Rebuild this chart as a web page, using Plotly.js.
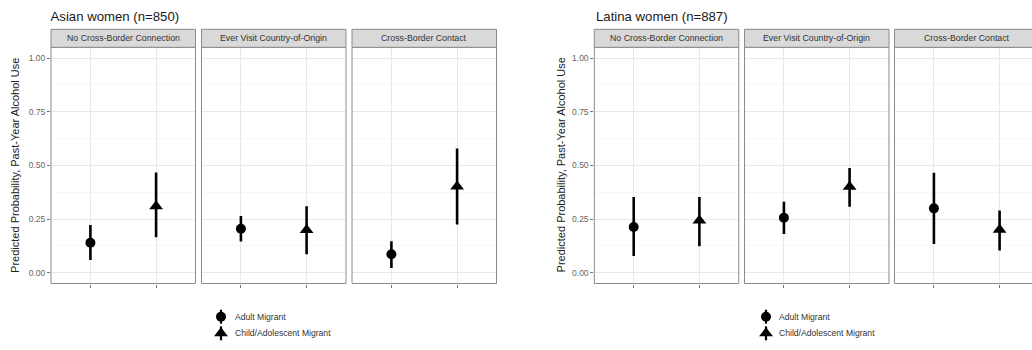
<!DOCTYPE html>
<html>
<head>
<meta charset="utf-8">
<script src="https://cdn.plot.ly/plotly-3.0.1.min.js"></script>
<style>
  html, body { margin: 0; padding: 0; background: #ffffff; }
  #chart { width: 1032px; height: 350px; }
</style>
</head>
<body>
<div id="chart"></div>
<script>
// ---------------- DATA ----------------
const facets = ['No Cross-Border Connection', 'Ever Visit Country-of-Origin', 'Cross-Border Contact'];
const groups = ['Adult Migrant', 'Child/Adolescent Migrant'];
const yTickVals = [0, 0.25, 0.5, 0.75, 1];
const yTickText = ['0.00', '0.25', '0.50', '0.75', '1.00'];
const yMinorVals = [0.125, 0.375, 0.625, 0.875];
const asianTitle = 'Asian women (n=850)';
const latinaTitle = 'Latina women (n=887)';
const yTitle = 'Predicted Probability, Past-Year Alcohol Use';

// Asian women: estimate, lower, upper per facet
const asianAdultEst  = [0.140, 0.205, 0.086];
const asianAdultLow  = [0.059, 0.146, 0.022];
const asianAdultHigh = [0.222, 0.264, 0.147];
const asianChildEst  = [0.310, 0.199, 0.402];
const asianChildLow  = [0.165, 0.086, 0.225];
const asianChildHigh = [0.467, 0.310, 0.579];

// Latina women
const latinaAdultEst  = [0.213, 0.256, 0.300];
const latinaAdultLow  = [0.078, 0.180, 0.134];
const latinaAdultHigh = [0.353, 0.331, 0.466];
const latinaChildEst  = [0.243, 0.400, 0.200];
const latinaChildLow  = [0.124, 0.307, 0.104];
const latinaChildHigh = [0.353, 0.488, 0.290];

// ---------------- GEOMETRY / STYLE ----------------
const W = 1032, H = 350;
const panelW = 144.5;
const pxPerUnit = panelW / 2.2;
const panelStarts = [51, 201.5, 352, 594.3, 744.5, 894.5];
const panelTop = 47.3, panelBottom = 283.5;
const stripTop = 29.3;
const borderColor = '#8a8a8a';
const gridMajor = '#e8e8e8';
const gridMinor = '#f3f3f3';
const symbols = ['circle', 'triangle-up'];
const sizes = [10, 12];
const FONT = 'Liberation Sans, Arial, Helvetica, sans-serif';

const charts = [
  { est: [asianAdultEst, asianChildEst], low: [asianAdultLow, asianChildLow], high: [asianAdultHigh, asianChildHigh] },
  { est: [latinaAdultEst, latinaChildEst], low: [latinaAdultLow, latinaChildLow], high: [latinaAdultHigh, latinaChildHigh] }
];

const traces = [];
const layout = {
  width: W, height: H,
  margin: { l: 0, r: 0, t: 0, b: 0, pad: 0 },
  paper_bgcolor: '#ffffff',
  plot_bgcolor: '#ffffff',
  showlegend: false,
  font: { family: FONT, color: '#333' },
  title: {
    text: asianTitle, x: 50.5 / W, xref: 'paper', xanchor: 'left',
    y: 1 - 16.5 / H, yref: 'paper', yanchor: 'middle',
    font: { family: FONT, size: 13.2, color: '#1a1a1a' }
  },
  shapes: [],
  annotations: []
};

for (let c = 0; c < 2; c++) {
  for (let f = 0; f < facets.length; f++) {
    const p = c * 3 + f;
    const k = p + 1;
    const x0 = panelStarts[p];
    const x1full = x0 + panelW;
    const x1 = Math.min(x1full, W);
    const xa = 'xaxis' + (k === 1 ? '' : k);
    const ya = 'yaxis' + (k === 1 ? '' : k);
    const isFirst = f === 0;
    layout[xa] = {
      domain: [x0 / W, x1 / W],
      type: 'category',
      categoryarray: groups,
      categoryorder: 'array',
      range: [-0.6, -0.6 + (x1 - x0) / pxPerUnit],
      anchor: 'y' + (k === 1 ? '' : k),
      showticklabels: false,
      ticks: 'outside', ticklen: 3, tickwidth: 1, tickcolor: '#777',
      showgrid: true, gridcolor: gridMajor, gridwidth: 1,
      zeroline: false, showline: false, fixedrange: true
    };
    layout[ya] = {
      domain: [1 - panelBottom / H, 1 - panelTop / H],
      range: [-0.05, 1.05],
      anchor: 'x' + (k === 1 ? '' : k),
      tickmode: 'array', tickvals: yTickVals, ticktext: yTickText,
      showticklabels: isFirst,
      ticks: isFirst ? 'outside' : '', ticklen: 3, tickwidth: 1, tickcolor: '#777',
      tickfont: { family: FONT, size: 8.5, color: '#666' },
      showgrid: true, gridcolor: gridMajor, gridwidth: 1,
      minor: { tickmode: 'array', tickvals: yMinorVals, showgrid: true, gridcolor: gridMinor, gridwidth: 0.7, ticks: '' },
      zeroline: false, showline: false, fixedrange: true
    };
    // panel border
    layout.shapes.push({
      type: 'rect', xref: 'x' + (k === 1 ? '' : k) + ' domain', yref: 'y' + (k === 1 ? '' : k) + ' domain',
      x0: 0, x1: x1full > W ? 1.1 : 1, y0: 0, y1: 1,
      line: { color: borderColor, width: 1 }, fillcolor: 'rgba(0,0,0,0)', layer: 'above'
    });
    // strip
    layout.shapes.push({
      type: 'rect', xref: 'x' + (k === 1 ? '' : k) + ' domain', yref: 'paper',
      x0: 0, x1: x1full > W ? 1.1 : 1, y0: 1 - panelTop / H, y1: 1 - stripTop / H,
      line: { color: borderColor, width: 1 }, fillcolor: '#d9d9d9', layer: 'above'
    });
    layout.annotations.push({
      text: facets[f], xref: 'x' + (k === 1 ? '' : k) + ' domain', yref: 'paper',
      x: (panelW / 2) / (x1 - x0), y: 1 - ((stripTop + panelTop) / 2) / H,
      xanchor: 'center', yanchor: 'middle', showarrow: false,
      font: { family: FONT, size: 8.8, color: '#333' }
    });
    // points
    for (let g = 0; g < groups.length; g++) {
      const est = charts[c].est[g][f];
      const lo = charts[c].low[g][f];
      const hi = charts[c].high[g][f];
      traces.push({
        type: 'scatter', mode: 'markers',
        x: [groups[g]], y: [est],
        xaxis: 'x' + (k === 1 ? '' : k), yaxis: 'y' + (k === 1 ? '' : k),
        marker: { symbol: symbols[g], size: sizes[g], color: '#000000', line: { width: 0 } },
        error_y: { type: 'data', symmetric: false, array: [hi - est], arrayminus: [est - lo],
                   color: '#000000', thickness: 2.6, width: 0 },
        hoverinfo: 'skip'
      });
    }
  }
}

// Y-axis titles and second chart title
layout.annotations.push({
  text: yTitle, textangle: -90, xref: 'paper', yref: 'paper',
  x: 15.5 / W, y: 1 - ((panelTop + panelBottom) / 2) / H,
  xanchor: 'center', yanchor: 'middle', showarrow: false,
  font: { family: FONT, size: 11, color: '#222' }
});
layout.annotations.push({
  text: yTitle, textangle: -90, xref: 'paper', yref: 'paper',
  x: 561 / W, y: 1 - ((panelTop + panelBottom) / 2) / H,
  xanchor: 'center', yanchor: 'middle', showarrow: false,
  font: { family: FONT, size: 11, color: '#222' }
});
layout.annotations.push({
  text: latinaTitle, xref: 'paper', yref: 'paper',
  x: 594 / W, y: 1 - 16.5 / H, xanchor: 'left', yanchor: 'middle', showarrow: false,
  font: { family: FONT, size: 13.2, color: '#1a1a1a' }
});

// Legends (one per chart) drawn on hidden helper axes
const legendMarkerX = [221, 766];
const legendTextX = [233.3, 776.7];
const legTop = 306, legBottom = 344;
const itemY0 = 316.7, itemStep = 16.6;
for (let c = 0; c < 2; c++) {
  const k = 7 + c;
  const xa = 'xaxis' + k, ya = 'yaxis' + k;
  layout[xa] = {
    domain: [(legendMarkerX[c] - 7) / W, (legendMarkerX[c] + 7) / W], range: [-1, 1],
    anchor: 'y' + k, visible: false, fixedrange: true
  };
  const nItems = groups.length;
  const topVal = (nItems - 1) + (itemY0 - legTop) / itemStep;
  const botVal = 0 - (legBottom - (itemY0 + (nItems - 1) * itemStep)) / itemStep;
  layout[ya] = {
    domain: [1 - legBottom / H, 1 - legTop / H], range: [botVal, topVal],
    anchor: 'x' + k, visible: false, fixedrange: true
  };
  for (let g = 0; g < nItems; g++) {
    const yv = nItems - 1 - g;
    traces.push({
      type: 'scatter', mode: 'markers', x: [0], y: [yv],
      xaxis: 'x' + k, yaxis: 'y' + k,
      marker: { symbol: symbols[g], size: sizes[g], color: '#000000', line: { width: 0 } },
      error_y: { type: 'constant', value: 0.42, color: '#000000', thickness: 2.2, width: 0 },
      hoverinfo: 'skip'
    });
    layout.annotations.push({
      text: groups[g], xref: 'paper', yref: 'y' + k, x: legendTextX[c] / W, y: yv,
      xanchor: 'left', yanchor: 'middle', showarrow: false,
      font: { family: FONT, size: 8.6, color: '#333' }
    });
  }
}

Plotly.newPlot('chart', traces, layout, { staticPlot: true, displayModeBar: false });
</script>
</body>
</html>
